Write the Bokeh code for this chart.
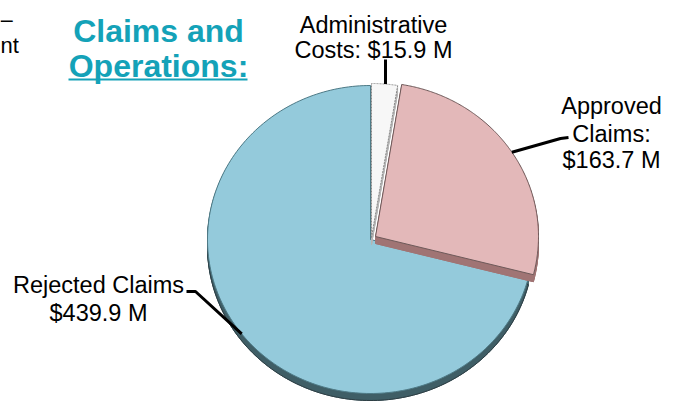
import numpy as np
from bokeh.plotting import figure
from bokeh.models import Range1d
from bokeh.embed import file_html
from bokeh.resources import INLINE
from bokeh.core.properties import value

# ---- data ----
categories = ["Administrative Costs", "Approved Claims", "Rejected Claims"]
amounts = [15.9, 163.7, 439.9]  # $ millions
label_lines = [
    ["Administrative", "Costs: $15.9 M"],
    ["Approved", "Claims:", "$163.7 M"],
    ["Rejected Claims", "$439.9 M"],
]
title_lines = ["Claims and", "Operations:"]
fragment_lines = ["\u2013", "nt"]

# ---- styles ----
top_colors = ["#F7F7F7", "#E3B8B9", "#94CADB"]
side_colors = ["#B5B5B5", "#A07474", "#3F5E66"]
edge_colors = ["#8A8A8A", "#6E5A5A", "#4E7A86"]
edge_dash = ["2 1", "solid", "solid"]
explode = [(1, 2), (5, 3), (0, 0)]  # px offsets (right, up)

W, H = 676, 401
def Y(sy):
    return H - sy

TXT = 8  # text baseline correction (px)
def YT(sy):
    return H - (sy - TXT)

p = figure(width=W, height=H, output_backend="svg", toolbar_location=None,
           x_range=Range1d(0, W), y_range=Range1d(0, H),
           min_border=0)
p.axis.visible = False
p.grid.visible = False
p.outline_line_color = None
p.background_fill_color = "white"

cx, cy = 370, Y(239)
rx, ry = 163, 154
depth = 7

vals = np.array(amounts, dtype=float)
frac = vals / vals.sum()
cum = np.concatenate([[0], np.cumsum(frac)])
t_start = 90 - 360 * cum[:-1]
t_end = 90 - 360 * cum[1:]

def slice_pts(i, shift=0.0):
    t = np.radians(np.linspace(t_start[i], t_end[i], 200))
    dx, dy = explode[i]
    ox, oy = cx + dx, cy + dy - shift
    xs = np.concatenate([[ox], ox + rx * np.cos(t), [ox]])
    ys = np.concatenate([[oy], oy + ry * np.sin(t), [oy]])
    return list(xs), list(ys)

draw_order = [2, 0, 1]
for i in draw_order:
    sx, sy = [], []
    for k in range(1, depth + 1):
        a, b = slice_pts(i, k)
        sx.append(a); sy.append(b)
    p.patches(sx, sy, fill_color=side_colors[i], line_color=side_colors[i], line_width=1)
    a, b = slice_pts(i, depth)
    p.patch(a, b, fill_alpha=0, line_color="#2E3E44" if i == 2 else side_colors[i], line_width=1)
    a, b = slice_pts(i, 0)
    p.patch(a, b, fill_color=top_colors[i], line_color=edge_colors[i],
            line_width=1, line_dash=edge_dash[i])

# ---- leader lines (anchored at slice mid-angle) ----
t_mid = np.radians((t_start + t_end) / 2)
def anchor(i):
    dx, dy = explode[i]
    return cx + dx + rx * np.cos(t_mid[i]), cy + dy + ry * np.sin(t_mid[i])

elbows = [
    [(385, Y(59))],
    [(560, Y(138)), (568, Y(137))],
    [(195, Y(291)), (186, Y(291))],
]
for i in range(3):
    ax_, ay_ = anchor(i)
    xs = [ax_] + [e[0] for e in elbows[i]]
    ys = [ay_] + [e[1] for e in elbows[i]]
    if i == 0:
        xs[0] = xs[1]
    p.line(xs, ys, line_color="black", line_width=3)

# ---- labels ----
font = value("Liberation Sans")
label_pos = [
    (373, [32, 57]),
    (611, [113, 141, 167]),
    (98, [292, 320]),
]
for i in range(3):
    x0, bases = label_pos[i]
    p.text(x=[x0] * len(bases), y=[YT(b) for b in bases], text=label_lines[i],
           text_font=font, text_font_size="23.5px", text_color="black",
           text_align="center", text_baseline="alphabetic")

# ---- title ----
p.text(x=[158, 158], y=[YT(38), YT(73)], text=title_lines,
       text_font=font, text_font_size="32px", text_font_style="bold",
       text_color="#14A2B8", text_align="center", text_baseline="alphabetic")
p.line([68, 247], [Y(79), Y(79)], line_color="#14A2B8", line_width=2)

# ---- fragment of neighbouring text at the left edge ----
p.text(x=[0, 0], y=[YT(27), YT(53)], text=fragment_lines,
       text_font=font, text_font_size="22px", text_color="black",
       text_align="left", text_baseline="alphabetic")

open("out.html", "w").write(file_html(p, INLINE))
